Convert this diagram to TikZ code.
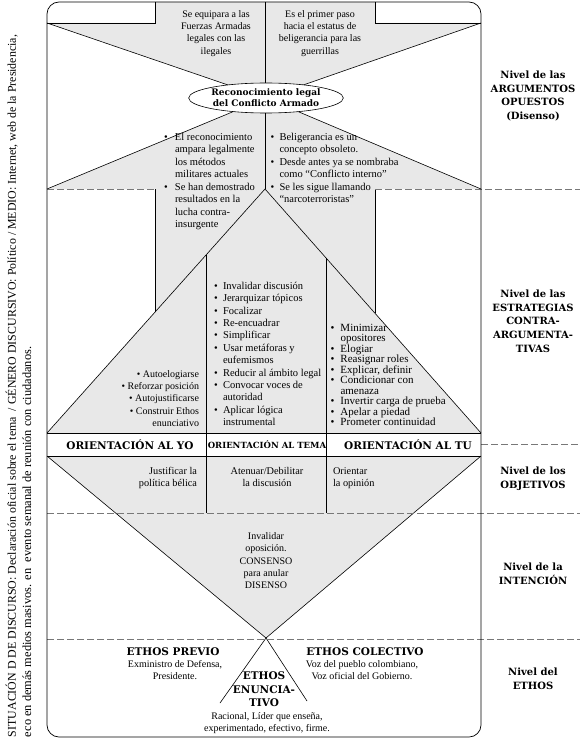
\documentclass[tikz,border=0pt]{standalone}
\usepackage{fontspec}
\setmainfont{Liberation Serif}
\newfontfamily\lblfont{DejaVu Serif}
\usetikzlibrary{shapes.geometric}
\definecolor{graybg}{RGB}{232,232,232}
\definecolor{dashc}{RGB}{120,120,120}
\newcommand\fsz[2]{\fontsize{#1}{#2}\selectfont}
\newlength\bw
\setlength\bw{9pt}
\newcommand\bitem[1]{\makebox[\bw][l]{\textbullet}#1}
\newcommand\bcont[1]{\hspace*{\bw}#1}
\begin{document}
\begin{tikzpicture}[x=1pt,y=-1pt,line width=0.6pt,
  txt/.style={inner sep=0pt,outer sep=0pt},
  body/.style={txt,font=\fsz{10}{12.3}},
  bold/.style={txt,font=\lblfont\bfseries\fsz{10}{13.6}},
  lvl/.style={dashc,dash pattern=on 7pt off 3pt,line width=0.8pt}]
\useasboundingbox (0,0) rectangle (580,738);

% shaded regions
\fill[graybg] (155,2) -- (375,2) -- (375,23) -- (481,23) -- (266,98) -- (47,23) -- (155,23) -- cycle;
\fill[graybg] (266,98) -- (481,189) -- (375,189) -- (375,313) -- (481,433) -- (47,433) -- (155,312) -- (155,189) -- (47,189) -- cycle;
\fill[graybg] (47,456) -- (481,456) -- (266,638) -- cycle;
\fill[white] (47,433) rectangle (481,456);

% lines of the argument level
\draw (155,2) -- (155,23) -- (47,23);
\draw (375,2) -- (375,23) -- (481,23);
\draw (47,23) -- (266,98) -- (481,23);
\draw (47,189) -- (266,98) -- (481,189);
\draw (265,2) -- (265,189);
\draw (155,189) -- (155,312);
\draw (375,189) -- (375,313);
% strategies triangle
\draw (47,433) -- (265,189) -- (481,433);
\draw (206,255) -- (206,513);
\draw (326,258) -- (326,513);
% orientation row
\draw (47,433) -- (481,433);
\draw (47,456) -- (481,456);
% objectives / intention
\draw (47,456) -- (266,638) -- (481,456);
\draw (220,703) -- (266,638) -- (307,701);
% level separators
\draw[lvl] (47,189) -- (155,189);
\draw[lvl] (375,189) -- (580,189);
\draw[lvl] (481,444) -- (580,444);
\draw[lvl] (47,513) -- (580,513);
\draw[lvl] (47,639) -- (580,639);
% frame
\draw[line width=0.7pt,rounded corners=12pt] (47,2) rectangle (481,737);

% ellipse
\node[ellipse,draw,fill=white,minimum width=148pt,minimum height=30pt,inner sep=0pt,align=center,font=\lblfont\bfseries\fsz{9}{11}] (rec) at (266,98) {Reconocimiento legal\\del Conflicto Armado};

% top texts
\node[body,anchor=north,align=center] (t1) at (216,10.4) {Se equipara a las\\Fuerzas Armadas\\legales con las\\ilegales};
\node[body,anchor=north,align=center] (t2) at (320,10.4) {Es el primer paso\\hacia el estatus de\\beligerancia para las\\guerrillas};
\node[txt,anchor=north west,align=left,font=\fsz{10.5}{12.5}] (t3) at (164,133.2) {\setlength\bw{11pt}\bitem{El reconocimiento}\\\setlength\bw{11pt}\bcont{ampara legalmente}\\\setlength\bw{11pt}\bcont{los métodos}\\\setlength\bw{11pt}\bcont{militares actuales}\\\setlength\bw{11pt}\bitem{Se han demostrado}\\\setlength\bw{11pt}\bcont{resultados en la}\\\setlength\bw{11pt}\bcont{lucha contra-}\\\setlength\bw{11pt}\bcont{insurgente}};
\node[txt,anchor=north west,align=left,font=\fsz{10.5}{12.5}] (t4) at (270.5,133.2) {\bitem{Beligerancia es un}\\\bcont{concepto obsoleto.}\\\bitem{Desde antes ya se nombraba}\\\bcont{como “Conflicto interno”}\\\bitem{Se les sigue llamando}\\\bcont{“narcoterroristas”}};

% strategies texts
\node[body,anchor=north east,align=right] (s1) at (199,370.4) {\textbullet\ Autoelogiarse\\\textbullet\ Reforzar posición\\\textbullet\ Autojustificarse\\\textbullet\ Construir Ethos\\enunciativo};
\node[txt,anchor=north west,align=left,font=\fsz{10.5}{12.4}] (s2) at (214,282) {\bitem{Invalidar discusión}\\\bitem{Jerarquizar tópicos}\\\bitem{Focalizar}\\\bitem{Re-encuadrar}\\\bitem{Simplificar}\\\bitem{Usar metáforas y}\\\bcont{eufemismos}\\\bitem{Reducir al ámbito legal}\\\bitem{Convocar voces de}\\\bcont{autoridad}\\\bitem{Aplicar lógica}\\\bcont{instrumental}};
\node[txt,anchor=north west,align=left,font=\fsz{11}{10.5}] (s3) at (330.5,324) {\setlength\bw{10pt}\bitem{Minimizar}\\\setlength\bw{10pt}\bcont{opositores}\\\setlength\bw{10pt}\bitem{Elogiar}\\\setlength\bw{10pt}\bitem{Reasignar roles}\\\setlength\bw{10pt}\bitem{Explicar, definir}\\\setlength\bw{10pt}\bitem{Condicionar con}\\\setlength\bw{10pt}\bcont{amenaza}\\\setlength\bw{10pt}\bitem{Invertir carga de prueba}\\\setlength\bw{10pt}\bitem{Apelar a piedad}\\\setlength\bw{10pt}\bitem{Prometer continuidad}};

% orientation row
\node[txt,font=\lblfont\bfseries\fsz{10.5}{12}] (o1) at (130,444.5) {ORIENTACIÓN AL YO};
\node[txt,font=\lblfont\bfseries\fsz{8.5}{10}] (o2) at (267,444.5) {ORIENTACIÓN AL TEMA};
\node[txt,font=\lblfont\bfseries\fsz{10.5}{12}] (o3) at (408,444.5) {ORIENTACIÓN AL TU};

% objectives
\node[body,anchor=north east,align=right,font=\fsz{10.3}{12}] (b1) at (197,467.5) {Justificar la\\política bélica};
\node[body,anchor=north,align=center,font=\fsz{10.3}{12}] (b2) at (267,467.5) {Atenuar/Debilitar\\la discusión};
\node[body,anchor=north west,align=left,font=\fsz{10.3}{12}] (b3) at (333,467.5) {Orientar\\la opinión};

% intention
\node[body,anchor=north,align=center,font=\fsz{10}{12.4}] (i1) at (266,532.4) {Invalidar\\oposición.\\CONSENSO\\para anular\\DISENSO};

% ethos
\node[txt,font=\lblfont\bfseries\fsz{10.5}{12}] (e1) at (173,652) {ETHOS PREVIO};
\node[body,anchor=north,align=center] (e2) at (175,660.4) {Exministro de Defensa,\\Presidente.};
\node[txt,font=\lblfont\bfseries\fsz{10.5}{12}] (e3) at (365,652) {ETHOS COLECTIVO};
\node[body,anchor=north,align=center] (e4) at (362,660.4) {Voz del pueblo colombiano,\\Voz oficial del Gobierno.};
\node[txt,anchor=north,align=center,font=\lblfont\bfseries\fsz{10.5}{13.5}] (e5) at (264,672) {ETHOS\\ENUNCIA-\\TIVO};
\node[body,anchor=north,align=center] (e6) at (267,712.4) {Racional, Líder que enseña,\\experimentado, efectivo, firme.};

% level labels
\node[bold,anchor=north,align=center] (l1) at (533,71) {Nivel de las\\ARGUMENTOS\\OPUESTOS\\(Disenso)};
\node[bold,anchor=north,align=center] (l2) at (533,290) {Nivel de las\\ESTRATEGIAS\\CONTRA-\\ARGUMENTA-\\TIVAS};
\node[bold,anchor=north,align=center] (l3) at (533,467) {Nivel de los\\OBJETIVOS};
\node[bold,anchor=north,align=center] (l4) at (533,563) {Nivel de la\\INTENCIÓN};
\node[bold,anchor=north,align=center] (l5) at (533,668) {Nivel del\\ETHOS};

% side text
\node[txt,rotate=90,anchor=base west,font=\fsz{11.9}{13}] (side1) at (16,737) {SITUACIÓN D DE DISCURSO: Declaración oficial sobre el tema \ / GÉNERO DISCURSIVO: Político / MEDIO: Internet, web de la Presidencia,};
\node[txt,rotate=90,anchor=base west,font=\fsz{12.4}{13}] (side2) at (31,737) {eco en demás medios masivos. en \ evento semanal de reunión con ciudadanos.};
\end{tikzpicture}
\end{document}
